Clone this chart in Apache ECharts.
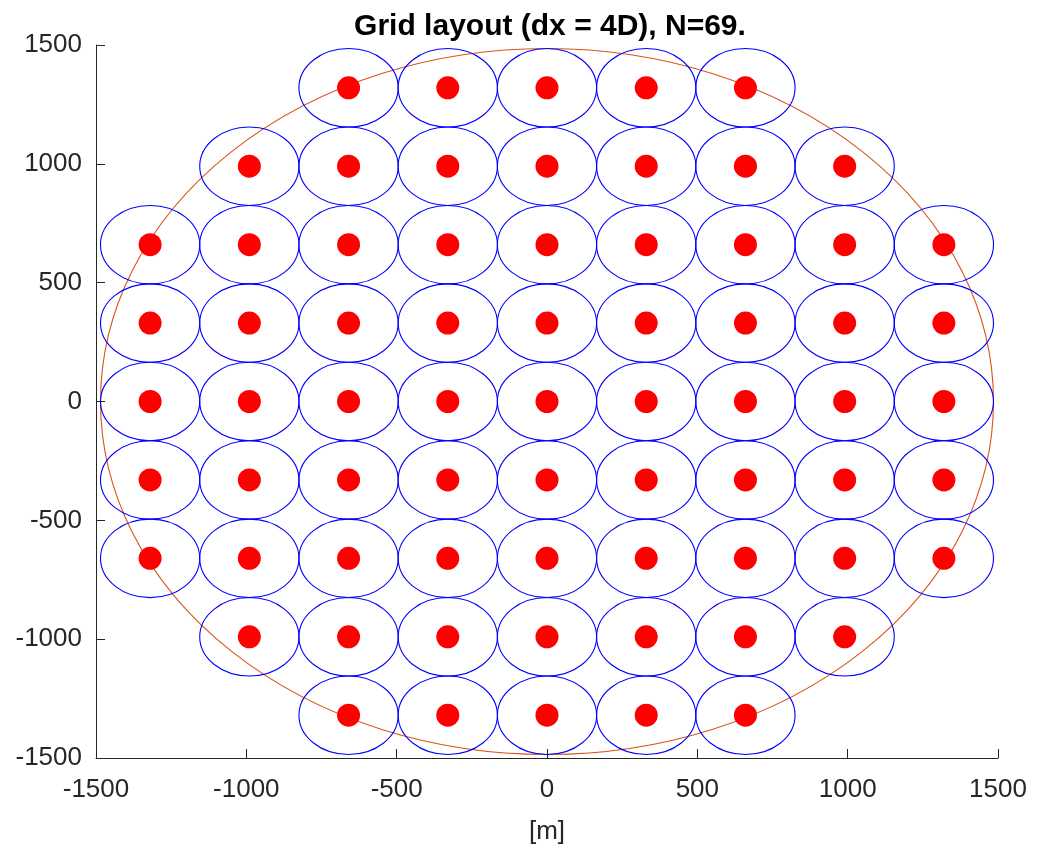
<!DOCTYPE html>
<html>
<head>
<meta charset="utf-8">
<script src="https://cdn.jsdelivr.net/npm/echarts@6/dist/echarts.min.js"></script>
<style>html,body{margin:0;padding:0;background:#fff}#chart{width:1046px;height:845px}</style>
</head>
<body>
<div id="chart"></div>
<script>
// Turbine positions [m], row by row (spacing dx = 4D = 330 m)
const row1 = [[-660,1320],[-330,1320],[0,1320],[330,1320],[660,1320]];
const row2 = [[-990,990],[-660,990],[-330,990],[0,990],[330,990],[660,990],[990,990]];
const row3 = [[-1320,660],[-990,660],[-660,660],[-330,660],[0,660],[330,660],[660,660],[990,660],[1320,660]];
const row4 = [[-1320,330],[-990,330],[-660,330],[-330,330],[0,330],[330,330],[660,330],[990,330],[1320,330]];
const row5 = [[-1320,0],[-990,0],[-660,0],[-330,0],[0,0],[330,0],[660,0],[990,0],[1320,0]];
const row6 = [[-1320,-330],[-990,-330],[-660,-330],[-330,-330],[0,-330],[330,-330],[660,-330],[990,-330],[1320,-330]];
const row7 = [[-1320,-660],[-990,-660],[-660,-660],[-330,-660],[0,-660],[330,-660],[660,-660],[990,-660],[1320,-660]];
const row8 = [[-990,-990],[-660,-990],[-330,-990],[0,-990],[330,-990],[660,-990],[990,-990]];
const row9 = [[-660,-1320],[-330,-1320],[0,-1320],[330,-1320],[660,-1320]];
const turbines = [].concat(row1,row2,row3,row4,row5,row6,row7,row8,row9);
const turbineRadius = 165;          // 2D
const boundary = [[0, 0, 1485]];     // site boundary: centre x, y, radius
const ticks = [-1500, -1000, -500, 0, 500, 1000, 1500];
const titleText = 'Grid layout (dx = 4D), N=' + turbines.length + '.';

function ellipsePath(cx, cy, rx, ry) {
  return 'M' + (cx - rx) + ' ' + cy +
    ' A' + rx + ' ' + ry + ' 0 1 0 ' + (cx + rx) + ' ' + cy +
    ' A' + rx + ' ' + ry + ' 0 1 0 ' + (cx - rx) + ' ' + cy + ' Z';
}
function circleItem(color) {
  return function (params, api) {
    const c = api.coord([api.value(0), api.value(1)]);
    const s = api.size([api.value(2), api.value(2)]);
    return {
      type: 'path',
      shape: { pathData: ellipsePath(c[0], c[1], s[0], s[1]) },
      style: { fill: null, stroke: color, lineWidth: 1.1 },
      silent: true
    };
  };
}

const chart = echarts.init(document.getElementById('chart'));
const font = 'Liberation Sans, Arial, sans-serif';
function axisCommon(margin) {
  return {
    type: 'value', min: ticks[0], max: ticks[ticks.length - 1], interval: 500,
    axisLine: { show: true, onZero: false, lineStyle: { color: '#262626', width: 1 } },
    axisTick: { show: true, inside: true, length: 9, lineStyle: { color: '#262626', width: 1 } },
    splitLine: { show: false },
    axisLabel: { color: '#262626', fontSize: 26, fontFamily: font, margin: margin,
                 formatter: v => String(v) }
  };
}
chart.setOption({
  animation: false,
  backgroundColor: '#fff',
  title: {
    text: titleText, left: 545, textAlign: 'center', top: 7,
    textStyle: { fontSize: 30, fontWeight: 'bold', color: '#000', fontFamily: font }
  },
  grid: { left: 96, right: 48, top: 45, bottom: 87, containLabel: false, outerBoundsMode: 'none' },
  xAxis: Object.assign(axisCommon(19), {
    name: '[m]', nameLocation: 'middle', nameGap: 61,
    nameTextStyle: { color: '#262626', fontSize: 26, fontFamily: font }
  }),
  yAxis: axisCommon(14),
  series: [
    {
      type: 'custom', renderItem: circleItem('#D95319'),
      data: boundary, clip: false, z: 1
    },
    {
      type: 'custom', renderItem: circleItem('#0000FF'),
      data: turbines.map(t => [t[0], t[1], turbineRadius]), clip: false, z: 2
    },
    {
      type: 'scatter', data: turbines, symbol: 'circle', symbolSize: 23,
      itemStyle: { color: '#FF0000', opacity: 1 }, z: 3, silent: true
    }
  ]
});
</script>
</body>
</html>
